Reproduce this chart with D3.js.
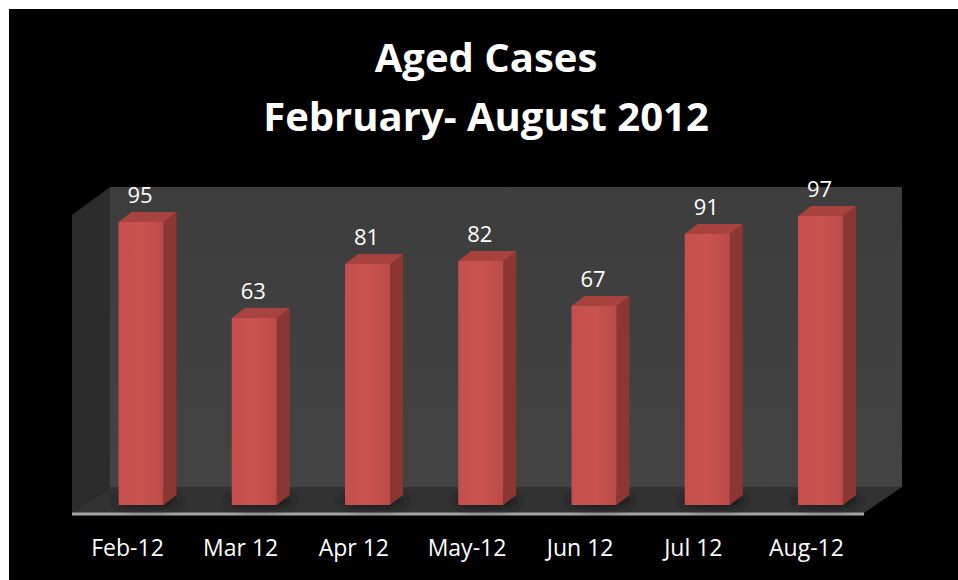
<!DOCTYPE html>
<html>
<head>
<meta charset="utf-8">
<script src="https://cdn.jsdelivr.net/npm/d3@7"></script>
<style>
  html, body { margin: 0; padding: 0; background: #ffffff; }
  svg { display: block; }
</style>
</head>
<body>
<svg id="chart" width="958" height="580"></svg>
<script>
// Monthly aged case counts
const categories = ["Feb-12", "Mar 12", "Apr 12", "May-12", "Jun 12", "Jul 12", "Aug-12"];
const values = [95, 63, 81, 82, 67, 91, 97];
const titleLines = ["Aged Cases", "February- August 2012"];

const W = 958, H = 580;
const svg = d3.select("#chart");
const font = "'Open Sans', 'Noto Sans', sans-serif";

// black card background
svg.append("rect").attr("x", 9).attr("y", 9).attr("width", W - 9).attr("height", H - 9).attr("fill", "#000");

// 3D box geometry (back wall, side wall, floor)
const wall = { x0: 110, x1: 902, y0: 187, y1: 487 };
const depth = { dx: 38, dy: 26 };

const defs = svg.append("defs");
const gBack = defs.append("linearGradient").attr("id", "backWall").attr("x1", 0).attr("y1", 0).attr("x2", 0).attr("y2", 1);
gBack.append("stop").attr("offset", "0%").attr("stop-color", "#3d3d3d");
gBack.append("stop").attr("offset", "100%").attr("stop-color", "#434343");

const gFront = defs.append("linearGradient").attr("id", "barFront").attr("x1", 0).attr("y1", 0).attr("x2", 1).attr("y2", 0);
gFront.append("stop").attr("offset", "0%").attr("stop-color", "#c44f4c");
gFront.append("stop").attr("offset", "50%").attr("stop-color", "#c9534f");
gFront.append("stop").attr("offset", "100%").attr("stop-color", "#bb4b48");

const shadow = defs.append("filter").attr("id", "shadow").attr("x", "-50%").attr("y", "-50%").attr("width", "200%").attr("height", "200%");
shadow.append("feGaussianBlur").attr("stdDeviation", 4);

// back wall
svg.append("rect")
  .attr("x", wall.x0).attr("y", wall.y0)
  .attr("width", wall.x1 - wall.x0).attr("height", wall.y1 - wall.y0)
  .attr("fill", "url(#backWall)");

// side wall
svg.append("path")
  .attr("d", `M${wall.x0 - depth.dx},${wall.y0 + depth.dy + 2} L${wall.x0},${wall.y0} L${wall.x0},${wall.y1} L${wall.x0 - depth.dx},${wall.y1 + depth.dy} Z`)
  .attr("fill", "#2c2c2c");

// floor
svg.append("path")
  .attr("d", `M${wall.x0 - depth.dx},${wall.y1 + depth.dy} L${wall.x0},${wall.y1} L${wall.x1},${wall.y1} L${wall.x1 - depth.dx},${wall.y1 + depth.dy} Z`)
  .attr("fill", "#323232");

// floor front edge
svg.append("line")
  .attr("x1", wall.x0 - depth.dx).attr("x2", wall.x1 - depth.dx)
  .attr("y1", wall.y1 + depth.dy + 1).attr("y2", wall.y1 + depth.dy + 1)
  .attr("stroke", "#a6a6a6").attr("stroke-width", 3);

// scales
const x = d3.scalePoint().domain(categories).range([141, 820.5]);
const xLabel = d3.scalePoint().domain(categories).range([127, 806]);
const y = d3.scaleLinear().domain([0, 100]).range([507, 207]);

const barW = 45;
const barDx = 13, barDy = -10;
const baseY = 505;

const bars = svg.append("g").selectAll("g").data(values).join("g");

// soft floor shadow behind each bar
bars.append("ellipse")
  .attr("cx", (d, i) => x(categories[i]) + 6)
  .attr("cy", baseY - 4)
  .attr("rx", barW / 2 + 10).attr("ry", 8)
  .attr("fill", "#1c1c1c").attr("filter", "url(#shadow)");

// side face
bars.append("path")
  .attr("d", (d, i) => {
    const l = x(categories[i]) + barW / 2, t = y(d);
    return `M${l},${t} L${l + barDx},${t + barDy} L${l + barDx},${baseY + barDy} L${l},${baseY} Z`;
  })
  .attr("fill", "#8c3634");

// top face
bars.append("path")
  .attr("d", (d, i) => {
    const l = x(categories[i]) - barW / 2, t = y(d);
    return `M${l},${t} L${l + barDx},${t + barDy} L${l + barW + barDx},${t + barDy} L${l + barW},${t} Z`;
  })
  .attr("fill", "#a8423f");

// front face
bars.append("rect")
  .attr("x", (d, i) => x(categories[i]) - barW / 2)
  .attr("y", d => y(d))
  .attr("width", barW)
  .attr("height", d => baseY - y(d))
  .attr("fill", "url(#barFront)");

// value labels
bars.append("text")
  .attr("x", (d, i) => x(categories[i]) - 1)
  .attr("y", d => y(d) - 19)
  .attr("text-anchor", "middle")
  .attr("font-family", font).attr("font-size", 22)
  .attr("fill", "#ffffff")
  .text(d => d);

// category axis
const axis = d3.axisBottom(xLabel).tickSize(0).tickPadding(0);
const axisG = svg.append("g").attr("transform", "translate(0,540)").call(axis);
axisG.select(".domain").remove();
axisG.selectAll("text")
  .attr("font-family", font).attr("font-size", 23)
  .attr("fill", "#ffffff")
  .attr("dy", "0.71em");

// title
svg.append("g").selectAll("text").data(titleLines).join("text")
  .attr("x", 486)
  .attr("y", (d, i) => 72 + i * 59)
  .attr("text-anchor", "middle")
  .attr("font-family", font).attr("font-weight", "bold").attr("font-size", 40)
  .attr("fill", "#ffffff")
  .text(d => d);
</script>
</body>
</html>
